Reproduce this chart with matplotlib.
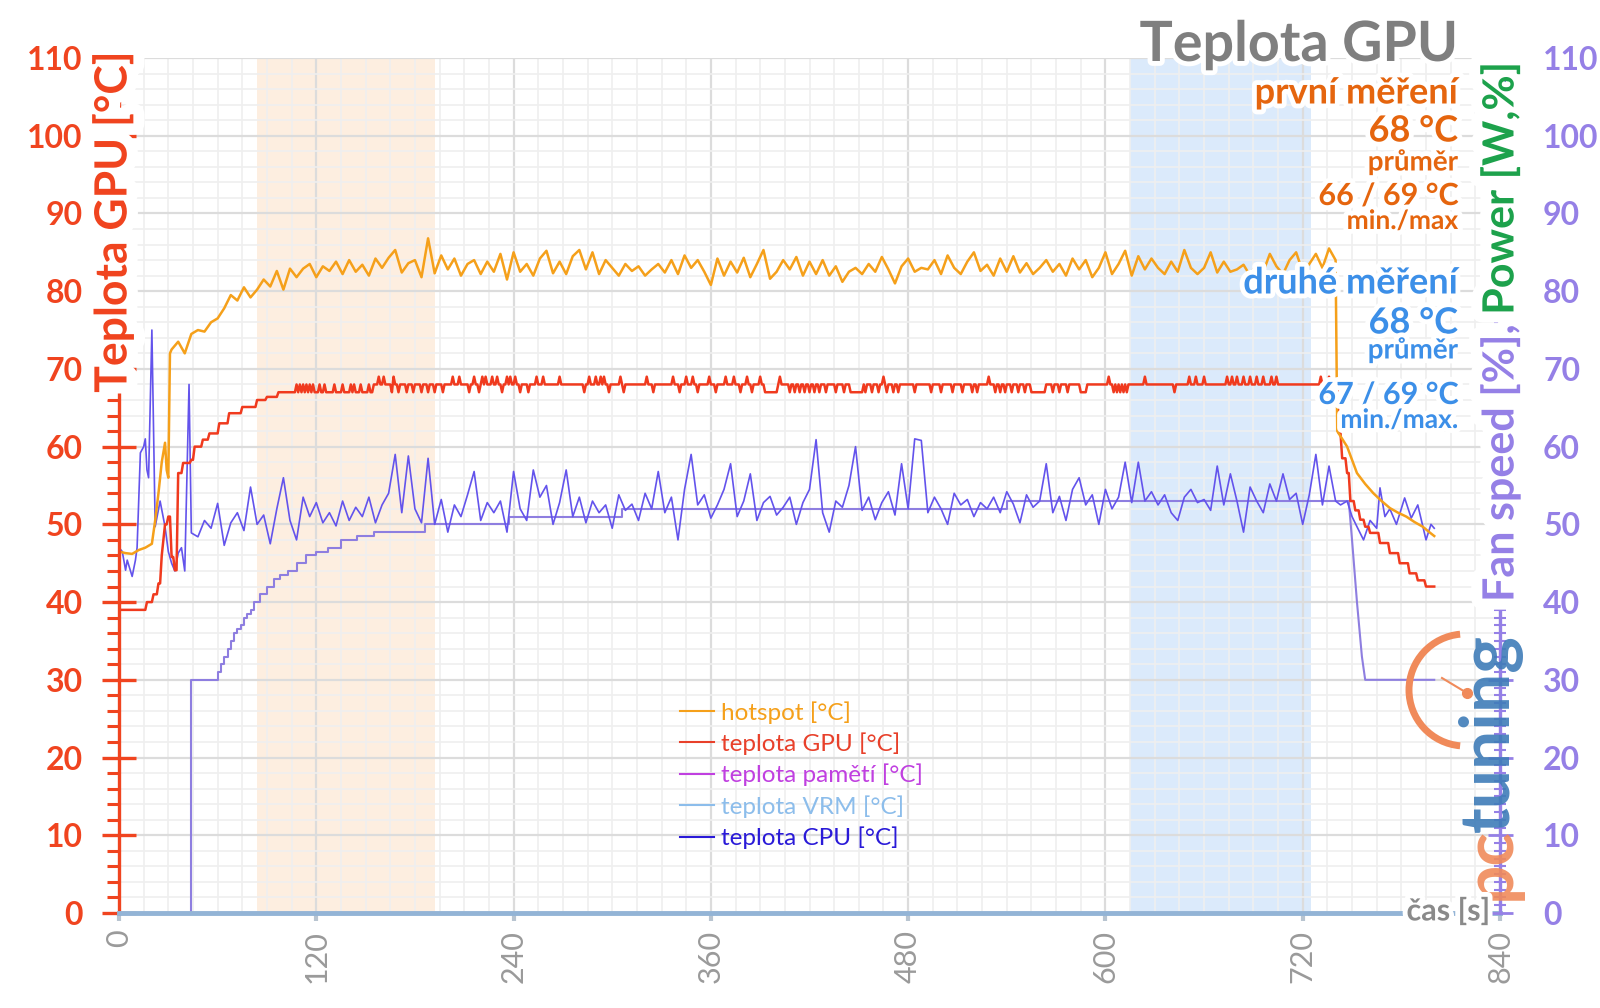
import numpy as np
import matplotlib
matplotlib.use('Agg')
import matplotlib.pyplot as plt
import matplotlib.patheffects as pe
from matplotlib.lines import Line2D
from matplotlib.patches import Arc

plt.rcParams['font.family'] = ['Lato', 'DejaVu Sans']

# ---------------- data (time in s) ----------------
# hotspot [°C]: irregular start, 4 s samples 48..740, cool-down tail
hot_start_t = [0, 4, 8, 12, 16, 20, 22, 24, 26, 28, 29, 30, 31, 32, 36, 40, 44]
hot_start_v = [46.5, 46.3, 46.2, 46.7, 47.0, 47.5, 50.5, 54.0, 58.0, 60.5, 57.0, 56.0, 72.0, 72.5, 73.5, 72.0, 74.5]
hot_mid_v = [
    75.0, 74.8, 76.0, 76.5, 77.8, 79.5, 78.8, 80.5, 79.2, 80.2, 81.5, 80.6, 82.6, 80.2, 82.9,
    81.8, 82.9, 83.5, 81.8, 83.2, 82.6, 83.8, 82.2, 84.0, 82.5, 83.4, 82.0, 84.2, 83.0, 84.3,
    85.3, 82.4, 83.6, 84.0, 81.8, 86.8, 82.3, 84.6, 82.8, 84.2, 82.0, 83.5, 84.0, 82.2, 83.8,
    82.5, 84.8, 81.5, 85.0, 82.5, 83.5, 82.0, 84.2, 85.2, 82.3, 83.8, 82.2, 84.5, 85.3, 82.8,
    85.0, 82.2, 84.0, 83.0, 82.0, 83.5, 82.6, 83.2, 82.0, 82.8, 83.5, 82.4, 84.0, 82.2, 84.6,
    83.0, 84.0, 82.5, 80.8, 84.2, 82.0, 83.8, 82.4, 84.3, 81.8, 83.5, 85.3, 81.6, 82.5, 84.0,
    82.8, 84.4, 82.0, 83.8, 82.2, 84.0, 82.0, 83.2, 81.2, 82.5, 83.0, 82.2, 83.5, 82.5, 84.4,
    82.8, 81.0, 83.2, 84.2, 82.5, 83.0, 82.8, 84.0, 82.2, 84.6, 83.0, 82.2, 83.8, 85.0, 82.6,
    83.4, 82.0, 84.2, 82.5, 84.5, 82.4, 83.6, 82.2, 83.0, 84.0, 82.5, 83.5, 82.0, 84.2, 82.8,
    84.0, 81.8, 83.0, 85.0, 82.2, 83.5, 85.2, 82.0, 84.5, 82.8, 84.2, 83.0, 82.2, 83.8, 82.5,
    85.3, 83.0, 82.2, 83.0, 85.0, 82.4, 83.8, 82.5, 82.8, 83.4, 82.0, 83.6, 82.5, 84.8, 83.2,
    82.2, 84.0, 85.0, 82.5, 83.5, 84.8, 83.0, 85.5, 84.0,
]
hot_end_t = [741, 744, 747, 753, 758, 763, 768, 773, 778, 783, 788, 793, 797, 800]
hot_end_v = [62.0, 61.0, 60.0, 56.6, 55.2, 54.0, 53.0, 52.1, 51.5, 51.0, 50.3, 49.7, 49.0, 48.5]

# teplota CPU [°C]
cpu_start_t = [0, 2, 4, 5, 8, 10, 11, 13, 15, 16, 17, 18, 20, 22, 25, 28, 30, 32, 34, 36, 38, 40, 42.6, 44]
cpu_start_v = [47.0, 46.5, 44.1, 45.4, 43.3, 45.4, 47.0, 59.2, 60.0, 61.0, 57.0, 56.0, 75.0, 49.7, 53.0, 49.7,
               46.5, 45.0, 44.0, 46.3, 47.0, 44.0, 68.0, 48.9]
cpu_mid_v = [
    48.4, 50.5, 49.5, 52.7, 47.3, 50.2, 51.5, 49.2, 54.8, 50.0, 51.2, 47.5, 52.0, 56.0, 50.5,
    48.0, 53.5, 51.0, 52.8, 50.2, 51.5, 49.8, 53.0, 50.5, 52.2, 51.0, 53.5, 50.2, 52.5, 54.0,
    59.0, 51.5, 58.8, 52.0, 50.2, 58.5, 50.0, 53.2, 49.0, 52.5, 51.0, 53.8, 56.8, 50.5, 52.8,
    51.5, 53.0, 49.0, 56.8, 52.0, 50.5, 57.0, 53.5, 55.0, 50.0, 52.8, 57.0, 51.0, 53.5, 50.2,
    53.0, 51.5, 52.5, 49.5, 53.8, 51.8, 52.6, 50.5, 54.0, 52.0, 56.8, 51.5, 53.5, 48.0, 54.5,
    59.0, 52.5, 53.8, 50.8, 52.5, 54.5, 57.8, 51.0, 53.0, 56.5, 50.5, 52.8, 53.6, 51.2, 52.2,
    53.5, 50.0, 52.8, 54.5, 60.9, 51.5, 49.0, 53.0, 52.2, 55.0, 60.0, 51.8, 53.5, 50.6, 52.8,
    54.2, 51.2, 57.8, 52.0, 61.0, 60.8, 51.5, 53.5, 52.0, 50.0, 54.0, 52.5, 53.2, 51.0, 52.8,
    52.0, 53.5, 51.5, 54.2, 52.6, 50.2, 53.8, 52.2, 53.0, 57.8, 51.5, 53.6, 50.5, 54.5, 56.0,
    52.5, 53.8, 50.0, 54.5, 52.0, 53.5, 58.0, 52.8, 58.0, 53.0, 54.2, 52.5, 53.8, 51.5, 50.5,
    53.5, 54.5, 52.8, 53.2, 51.8, 57.5, 52.5, 56.5, 53.0, 49.0, 54.8, 53.0, 51.5, 55.2, 53.0,
    56.5, 53.2, 54.0, 50.0, 53.8, 59.0, 52.5, 57.5, 53.0,
]
cpu_end_t = [743, 747, 750, 753, 757, 761, 765, 767, 770, 773, 777, 782, 786, 790, 795, 798, 800]
cpu_end_v = [52.5, 53.0, 51.0, 49.7, 48.0, 50.5, 49.5, 54.7, 51.0, 52.0, 50.0, 53.4, 50.8, 52.5, 48.0, 50.0, 49.5]

mid_t = list(range(48, 741, 4))  # 4 s sampling of the steady part

# teplota GPU [°C]: levels at change points (1 s log), plus single-sample blips
gpu_step_t = [0, 17, 21, 24, 26, 27, 28, 30, 32, 34, 36, 39, 44, 46, 51, 55, 61, 67, 75, 84, 90, 97, 155,
              742, 744, 747, 749, 752, 755, 758, 761, 767, 773, 779, 785, 790, 795]
gpu_step_v = [39, 40, 41, 42.4, 46, 48, 50, 51, 45.8, 44.1, 56.6, 57.9, 58.3, 60, 60.9, 61.7, 63, 64.3, 65.1, 66,
              66.4, 67, 68, 61.7, 58.5, 56.6, 53.0, 51.8, 50.6, 49.7, 48.9, 47.6, 46.3, 45.0, 43.7, 42.8, 42.0]
gpu_up_t = [108, 110, 112, 114, 116, 118, 122, 125, 131, 136, 141, 143, 147, 152]  # 68 while level is 67
gpu_hi_t = [158, 161, 167, 203, 207, 216, 221, 223, 227, 230, 236, 238, 241, 254, 258, 268, 286, 290, 293, 295,
            305, 321, 337, 345, 349, 359, 369, 374, 382, 390, 402, 465, 529, 602, 624, 651, 655, 660, 674, 677,
            680, 684, 688, 692, 696, 701, 704, 731, 736]  # 69
gpu_lo_t = [166, 170, 175, 179, 184, 188, 192, 197, 213, 219, 233, 244, 249, 283, 298, 307, 325, 341, 352, 363,
            378, 385, 393, 394, 395, 396, 397, 398, 399, 400, 408, 411, 414, 417, 420, 423, 426, 430, 436, 441,
            445, 446, 447, 448, 449, 450, 451, 452, 454, 458, 462, 467, 471, 474, 484, 494, 500, 507, 513, 519,
            522, 533, 536, 539, 543, 547, 551, 555, 556, 557, 558, 559, 560, 561, 562, 563, 568, 572, 577, 585,
            586, 587, 588, 605, 607, 609, 611, 613, 642]  # 67
gpu_end = 800

# Fan speed [%]: level changes, then the ramp down at the end of the test
fan_t = [0, 44, 60, 62, 64, 66, 68, 70, 72, 74, 76, 78, 80, 82, 86, 90, 94, 98, 103, 108, 114, 120, 127, 135,
         145, 155, 186, 237, 306, 540, 748]
fan_v = [0, 30, 31, 32, 33, 34, 35, 36, 36.5, 37, 38, 38.5, 39, 40, 41, 42, 43, 43.5, 44, 45, 46, 46.5, 47, 48,
         48.5, 49, 50, 51, 52, 53, 53]
fan_drop_t = [748, 750, 753, 756, 758, 800]
fan_drop_v = [53, 48, 40, 33, 30, 30]

band1 = (84, 192)
band2 = (615, 725)

legend_labels = ['hotspot [°C]', 'teplota GPU [°C]', 'teplota pamětí [°C]', 'teplota VRM [°C]', 'teplota CPU [°C]']
legend_colors = ['#F5A01A', '#E8402A', '#C040E0', '#8CBDEB', '#2A1AD8']

# ---------------- series assembly ----------------
hot_t = hot_start_t + mid_t + hot_end_t
hot_v = hot_start_v + hot_mid_v + hot_end_v
cpu_t = cpu_start_t + mid_t + cpu_end_t
cpu_v = cpu_start_v + cpu_mid_v + cpu_end_v

gpu_t = np.arange(0, gpu_end + 1)
gpu_v = np.array(gpu_step_v)[np.searchsorted(gpu_step_t, gpu_t, side='right') - 1].astype(float)
gpu_v[gpu_up_t] = 68
gpu_v[gpu_hi_t] = 69
gpu_v[gpu_lo_t] = 67

# ---------------- figure ----------------
W, H = 1600, 1008
fig = plt.figure(figsize=(W / 100, H / 100), dpi=100)
ax = fig.add_axes([119 / W, 1 - 913 / H, (1500 - 119) / W, (913 - 58) / H])
ax2 = ax.twinx()

RED = '#F0441F'
PURPLE = '#9580E6'
GREEN = '#1DA24C'

ax.set_xlim(0, 840)
ax.set_ylim(0, 110)
ax2.set_ylim(0, 110)

ax.set_xticks(range(0, 841, 120))
ax.set_xticks(np.arange(0, 841, 15), minor=True)
ax.set_yticks(range(0, 111, 10))
ax.set_yticks(np.arange(0, 111, 2), minor=True)
ax.grid(which='major', color='#dcdcdc', lw=1.6)
ax.grid(which='minor', color='#efefef', lw=1.2)
ax.set_axisbelow(True)

ax.axvspan(*band1, color='#FCE3CC', alpha=0.6, lw=0, zorder=0.5)
ax.axvspan(*band2, color='#CFE4FA', alpha=0.75, lw=0, zorder=0.5)

ax.plot(fan_t, fan_v, color='#8E7EE0', lw=1.5, drawstyle='steps-post', zorder=2)
ax.plot(fan_drop_t, fan_drop_v, color='#8E7EE0', lw=1.5, zorder=2)
ax.plot(cpu_t, cpu_v, color='#6353EC', lw=1.2, zorder=2.1)
ax.plot(gpu_t, gpu_v, color='#F03A1E', lw=1.8, zorder=2.2)
ax.plot(hot_t, hot_v, color='#F5A01A', lw=1.8, zorder=2.3)

for s in ['top', 'right']:
    ax.spines[s].set_visible(False)
for s in ['top', 'left', 'bottom']:
    ax2.spines[s].set_visible(False)
ax.spines['left'].set_color(RED)
ax.spines['left'].set_linewidth(2.4)
ax.spines['bottom'].set_color('#93B4D6')
ax.spines['bottom'].set_linewidth(3.5)
ax2.spines['right'].set_color(PURPLE)
ax2.spines['right'].set_linewidth(2.4)

ax.tick_params(axis='x', which='major', length=6, width=3, color='#b8c4d0', labelsize=22,
               labelcolor='#9a9a9a', labelrotation=90, pad=6)
ax.tick_params(axis='x', which='minor', length=0)
ax.tick_params(axis='y', which='major', direction='inout', length=24, width=2.4, color=RED,
               labelsize=23, labelcolor=RED, pad=14)
ax.tick_params(axis='y', which='minor', direction='out', length=9, width=2.2, color=RED)
for lbl in ax.get_yticklabels():
    lbl.set_fontweight('bold')

ax2.set_yticks(range(0, 111, 10))
ax2.set_yticks(np.arange(0, 111, 1), minor=True)
ax2.tick_params(axis='y', which='major', direction='inout', length=18, width=2, color=PURPLE,
                labelsize=23, labelcolor=PURPLE, pad=22)
ax2.tick_params(axis='y', which='minor', direction='inout', length=9, width=1.5, color=PURPLE)
for lbl in ax2.get_yticklabels():
    lbl.set_fontweight('bold')

handles = [Line2D([], [], color=c, lw=1.5) for c in legend_colors]
leg = ax.legend(handles, legend_labels, loc='upper left', bbox_to_anchor=(680 / W, 1 - 701 / H),
                bbox_transform=fig.transFigure, frameon=False, fontsize=17.5, handlelength=1.4,
                handletextpad=0.3, labelspacing=0.36, borderpad=0, borderaxespad=0)
for txt, c in zip(leg.get_texts(), legend_colors):
    txt.set_color(c)

glow = [pe.withStroke(linewidth=7, foreground='white')]
big_glow = [pe.withStroke(linewidth=16, foreground='white')]

# axis titles
fig.text(113 / W, 1 - 222 / H, 'Teplota GPU [°C]', rotation=90, ha='center', va='center',
         fontsize=32, fontweight='bold', color=RED, path_effects=big_glow, zorder=5)
t1 = fig.text(1500 / W, 1 - 602 / H, 'Fan speed [%],', rotation=90, rotation_mode='anchor',
              ha='left', va='center', fontsize=31, fontweight='bold', color=PURPLE,
              path_effects=big_glow, zorder=5)
fig.canvas.draw()
bb = t1.get_window_extent()
fig.text(1500 / W, (bb.y1 + 10) / H, 'Power [W,%]', rotation=90, rotation_mode='anchor',
         ha='left', va='center', fontsize=31, fontweight='bold', color=GREEN,
         path_effects=big_glow, zorder=5)
fig.text(1490 / W, 1 - 911 / H, 'čas [s]', ha='right', va='center', fontsize=22,
         fontweight='bold', color='#8a8a8a', path_effects=glow, zorder=5)

# title and summary
RX = 1458 / W
fig.text(RX, 1 - 45 / H, 'Teplota GPU', ha='right', va='center', fontsize=40,
         fontweight='bold', color='#7f7f7f', path_effects=glow, zorder=6)
ORG = '#E5650E'
BLU = '#3C8FE8'
notes = [
    ('první měření', 93, 26, ORG), ('68 °C', 131, 26, ORG), ('průměr', 162, 20, ORG),
    ('66 / 69 °C', 196, 22, ORG), ('min./max', 221, 19, ORG),
    ('druhé měření', 283, 26, BLU), ('68 °C', 323, 26, BLU), ('průměr', 350, 20, BLU),
    ('67 / 69 °C', 395, 22, BLU), ('min./max.', 420, 19, BLU),
]
for txt, y, fs, c in notes:
    fig.text(RX, 1 - y / H, txt, ha='right', va='center', fontsize=fs, fontweight='bold',
             color=c, path_effects=glow, zorder=6)

# pctuning watermark
fig.text(1490 / W, 1 - 900 / H, 'pc', rotation=90, rotation_mode='anchor', ha='left', va='center',
         fontsize=50, fontweight='bold', color='#F08A5A', alpha=0.9, zorder=4)
fig.text(1490 / W, 1 - 832 / H, 'tuning', rotation=90, rotation_mode='anchor', ha='left', va='center',
         fontsize=50, fontweight='bold', color='#3E7CB8', alpha=0.9, zorder=4)
fig.add_artist(Arc((14.65, (H - 690) / 100), 1.12, 1.12, theta1=95, theta2=265,
                   transform=fig.dpi_scale_trans, color='#F08A5A', lw=5, zorder=4))
fig.add_artist(Line2D([14.42, 14.67], [(H - 678) / 100, (H - 693) / 100],
                      transform=fig.dpi_scale_trans, color='#F08A5A', lw=1.5, zorder=4))
fig.add_artist(Line2D([14.67], [(H - 693) / 100], marker='o', ms=7,
                      transform=fig.dpi_scale_trans, color='#F08A5A', zorder=4))

fig.savefig('out.png', dpi=100)
